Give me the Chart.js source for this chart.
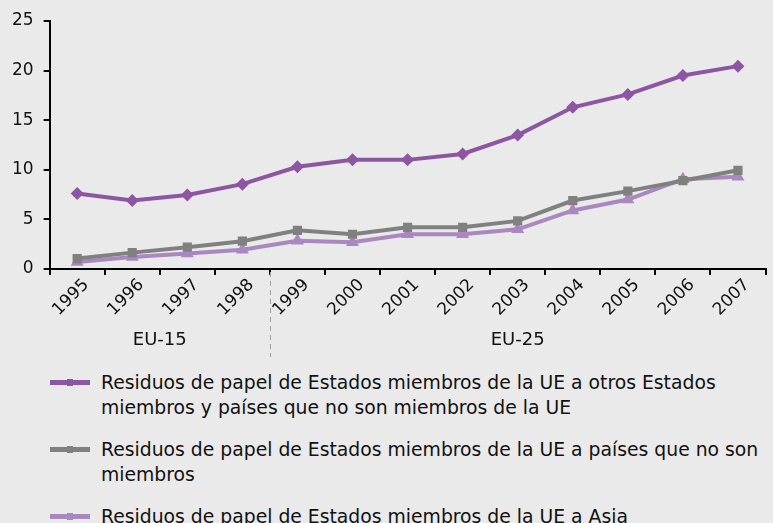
<!DOCTYPE html>
<html>
<head>
<meta charset="utf-8">
<script src="https://cdn.jsdelivr.net/npm/chart.js@4/dist/chart.umd.min.js"></script>
<style>
  body { margin: 0; background: #eaeaea; font-family: "DejaVu Sans", Verdana, sans-serif; }
  #wrap { position: relative; width: 773px; height: 365px; }
  #legend { position: absolute; left: 50px; top: 370px; width: 715px; font-size: 18.8px; color: #111; }
  .item { display: flex; align-items: flex-start; margin-bottom: 17px; line-height: 25px; }
  .mark { position: relative; width: 40px; height: 25px; margin-right: 11px; flex: none; }
  .mark .ln { position: absolute; left: 0; top: 10px; width: 40px; height: 5px; }
  .mark .pt { position: absolute; left: 17px; top: 9px; width: 6px; height: 7px; }
</style>
</head>
<body>
<div id="wrap"><canvas id="c"></canvas></div>
<div id="legend"></div>
<script>
// años y valores
const years = ['1995','1996','1997','1998','1999','2000','2001','2002','2003','2004','2005','2006','2007'];
const otrosEstados = [7.6, 6.9, 7.45, 8.55, 10.3, 11.0, 11.0, 11.6, 13.5, 16.3, 17.6, 19.5, 20.45];
const noMiembros = [1.05, 1.65, 2.2, 2.8, 3.9, 3.5, 4.2, 4.2, 4.85, 6.9, 7.85, 8.9, 9.95];
const asia = [0.7, 1.2, 1.55, 1.95, 2.85, 2.7, 3.5, 3.5, 4.0, 5.9, 7.0, 9.05, 9.3];
const groupLabels = ['EU-15', 'EU-25'];
const groupFirst = [0, 4];
const groupLast = [3, 12];
const seriesNames = [
    'Residuos de papel de Estados miembros de la UE a otros Estados miembros y países que no son miembros de la UE',
    'Residuos de papel de Estados miembros de la UE a países que no son miembros',
    'Residuos de papel de Estados miembros de la UE a Asia'
];
const colors = ['#8c56a3', '#808080', '#a987c0'];
const shapes = ['rectRot', 'rect', 'triangle'];

const groupsPlugin = {
    id: 'groups',
    afterDraw(chart) {
        const ctx = chart.ctx, x = chart.scales.x, area = chart.chartArea;
        ctx.save();
        // línea de separación entre EU-15 y EU-25
        for (let g = 1; g < groupFirst.length; g++) {
            const sx = Math.round((x.getPixelForValue(groupFirst[g] - 1) + x.getPixelForValue(groupFirst[g])) / 2) + 0.5;
            ctx.strokeStyle = '#a0a0a0';
            ctx.lineWidth = 1;
            ctx.setLineDash([5, 4]);
            ctx.beginPath();
            ctx.moveTo(sx, area.bottom + 3);
            ctx.lineTo(sx, area.bottom + 88);
            ctx.stroke();
        }
        ctx.setLineDash([]);
        ctx.fillStyle = '#111';
        ctx.font = '18px "DejaVu Sans"';
        ctx.textAlign = 'center';
        ctx.textBaseline = 'middle';
        groupLabels.forEach((lab, g) => {
            const cx = (x.getPixelForValue(groupFirst[g]) + x.getPixelForValue(groupLast[g])) / 2;
            ctx.fillText(lab, cx, area.bottom + 71);
        });
        ctx.restore();
    }
};

const data = [otrosEstados, noMiembros, asia];
new Chart(document.getElementById('c'), {
    type: 'line',
    data: {
        labels: years,
        datasets: data.map((d, i) => ({
            label: seriesNames[i],
            data: d,
            borderColor: colors[i],
            backgroundColor: colors[i],
            borderWidth: 4,
            pointStyle: shapes[i],
            pointRadius: i === 2 ? 7.5 : 6.5,
            pointBorderWidth: 0,
            tension: 0,
            order: i
        }))
    },
    options: {
        responsive: true,
        maintainAspectRatio: false,
        animation: false,
        layout: { padding: { top: 21, left: 2, right: 0, bottom: 45 } },
        plugins: {
            legend: { display: false },
            tooltip: { enabled: false }
        },
        scales: {
            x: {
                offset: true,
                grid: { display: true, drawOnChartArea: false, offset: true, color: '#000', tickLength: 6, lineWidth: 2 },
                border: { color: '#000', width: 2 },
                ticks: { color: '#111', font: { family: 'DejaVu Sans', size: 17 }, minRotation: 45, maxRotation: 45, padding: 0, labelOffset: 9 }
            },
            y: {
                min: 0,
                max: 25,
                grid: { display: true, drawOnChartArea: false, color: '#000', tickLength: 6, lineWidth: 2 },
                border: { color: '#000', width: 2 },
                ticks: { stepSize: 5, color: '#111', font: { family: 'DejaVu Sans', size: 17 }, padding: 10 }
            }
        }
    },
    plugins: [groupsPlugin]
});

// leyenda en HTML para que el texto se parta en dos líneas
const legend = document.getElementById('legend');
seriesNames.forEach((name, i) => {
    const item = document.createElement('div');
    item.className = 'item';
    item.innerHTML = '<span class="mark"><span class="ln" style="background:' + colors[i] + '"></span>' +
        '<span class="pt" style="background:' + colors[i] + '"></span></span><span>' + name + '</span>';
    legend.appendChild(item);
});
</script>
</body>
</html>
